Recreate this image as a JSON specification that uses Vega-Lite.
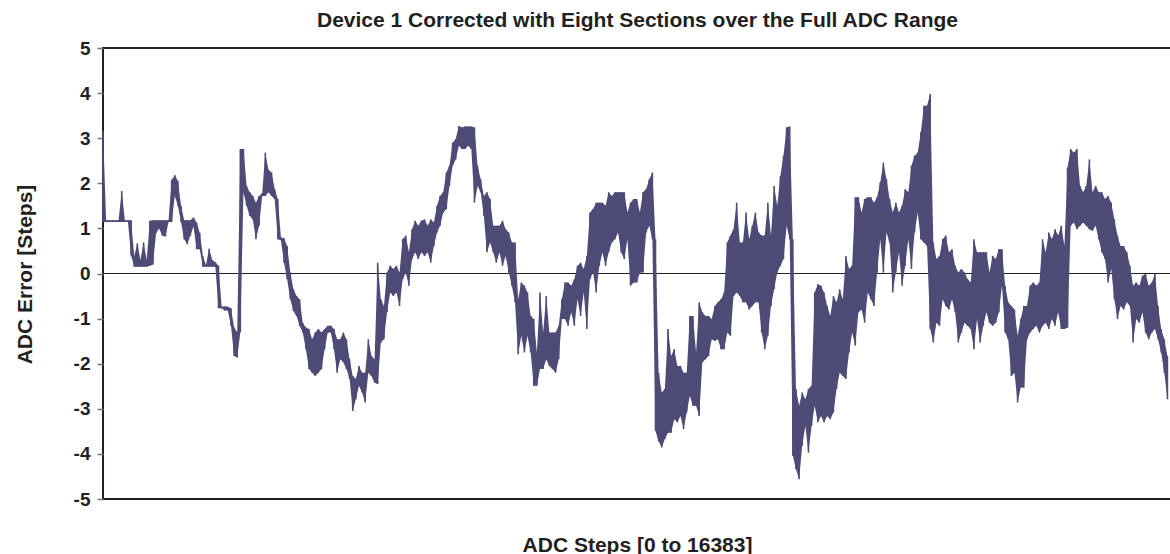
{
"$schema": "https://vega.github.io/schema/vega-lite/v6.json",
"width": 1073,
"height": 451,
"autosize": {"type": "none"},
"padding": {"left": 103, "top": 48, "right": 0, "bottom": 55},
"background": "white",
"title": {"text": "Device 1 Corrected with Eight Sections over the Full ADC Range", "font": "Liberation Sans", "fontSize": 21, "fontWeight": "bold", "color": "#231f20", "anchor": "middle", "baseline": "alphabetic", "offset": 20, "dx": -2, "dy": 29},
"config": {"view": {"stroke": "#231f20", "strokeWidth": 2}},
"data": {"values": [
{"x":0,"lo":1.14,"hi":3.16},{"x":48,"lo":1.14,"hi":1.18},{"x":96,"lo":1.14,"hi":1.18},{"x":144,"lo":1.14,"hi":1.18},{"x":192,"lo":1.14,"hi":1.18},{"x":240,"lo":1.14,"hi":1.18},{"x":288,"lo":1.14,"hi":1.83},{"x":336,"lo":1.14,"hi":1.18},{"x":384,"lo":1.14,"hi":1.18},{"x":432,"lo":0.4,"hi":1.18},
{"x":480,"lo":0.15,"hi":0.38},{"x":528,"lo":0.15,"hi":0.67},{"x":576,"lo":0.15,"hi":0.3},{"x":624,"lo":0.15,"hi":0.69},{"x":672,"lo":0.15,"hi":0.3},{"x":720,"lo":0.17,"hi":1.17},{"x":768,"lo":0.2,"hi":1.18},{"x":816,"lo":0.9,"hi":1.18},{"x":864,"lo":1.0,"hi":1.18},{"x":912,"lo":0.84,"hi":1.18},
{"x":960,"lo":0.82,"hi":1.18},{"x":1008,"lo":1.14,"hi":1.18},{"x":1056,"lo":1.14,"hi":2.08},{"x":1104,"lo":1.72,"hi":2.18},{"x":1152,"lo":1.5,"hi":2.05},{"x":1200,"lo":1.14,"hi":1.5},{"x":1248,"lo":0.76,"hi":1.18},{"x":1296,"lo":0.65,"hi":1.18},{"x":1344,"lo":0.84,"hi":1.18},{"x":1392,"lo":1.05,"hi":1.24},
{"x":1440,"lo":0.54,"hi":1.13},{"x":1488,"lo":0.54,"hi":0.9},{"x":1536,"lo":0.15,"hi":0.38},{"x":1584,"lo":0.15,"hi":0.19},{"x":1632,"lo":0.15,"hi":0.55},{"x":1680,"lo":0.15,"hi":0.3},{"x":1728,"lo":0.15,"hi":0.25},{"x":1776,"lo":-0.77,"hi":0.17},{"x":1824,"lo":-0.77,"hi":-0.73},{"x":1872,"lo":-0.82,"hi":-0.73},
{"x":1920,"lo":-0.82,"hi":-0.74},{"x":1968,"lo":-1.16,"hi":-0.77},{"x":2016,"lo":-1.83,"hi":-1.2},{"x":2064,"lo":-1.86,"hi":-1.3},{"x":2112,"lo":-1.3,"hi":2.76},{"x":2160,"lo":1.8,"hi":2.76},{"x":2208,"lo":1.5,"hi":1.94},{"x":2256,"lo":1.28,"hi":1.8},{"x":2304,"lo":1.2,"hi":1.72},{"x":2352,"lo":0.76,"hi":1.57},
{"x":2400,"lo":1.06,"hi":1.72},{"x":2448,"lo":1.72,"hi":1.78},{"x":2496,"lo":1.72,"hi":2.68},{"x":2544,"lo":1.8,"hi":2.3},{"x":2592,"lo":1.72,"hi":2.24},{"x":2640,"lo":1.65,"hi":1.87},{"x":2688,"lo":0.76,"hi":1.65},{"x":2736,"lo":0.74,"hi":0.8},{"x":2784,"lo":0.24,"hi":0.78},{"x":2832,"lo":-0.13,"hi":0.61},
{"x":2880,"lo":-0.57,"hi":0.02},{"x":2928,"lo":-0.83,"hi":-0.35},{"x":2976,"lo":-0.94,"hi":-0.5},{"x":3024,"lo":-1.16,"hi":-0.57},{"x":3072,"lo":-1.31,"hi":-1.1},{"x":3120,"lo":-1.68,"hi":-1.2},{"x":3168,"lo":-2.12,"hi":-1.23},{"x":3216,"lo":-2.2,"hi":-1.46},{"x":3264,"lo":-2.27,"hi":-1.31},{"x":3312,"lo":-2.2,"hi":-1.23},
{"x":3360,"lo":-2.12,"hi":-1.31},{"x":3408,"lo":-1.68,"hi":-1.23},{"x":3456,"lo":-1.31,"hi":-1.16},{"x":3504,"lo":-1.31,"hi":-1.16},{"x":3552,"lo":-1.68,"hi":-1.23},{"x":3600,"lo":-2.2,"hi":-1.46},{"x":3648,"lo":-1.9,"hi":-1.46},{"x":3696,"lo":-1.97,"hi":-1.31},{"x":3744,"lo":-2.12,"hi":-1.46},{"x":3792,"lo":-2.34,"hi":-1.9},
{"x":3840,"lo":-3.05,"hi":-2.27},{"x":3888,"lo":-2.79,"hi":-2.34},{"x":3936,"lo":-2.49,"hi":-2.05},{"x":3984,"lo":-2.64,"hi":-2.2},{"x":4032,"lo":-2.86,"hi":-2.2},{"x":4080,"lo":-2.2,"hi":-1.46},{"x":4128,"lo":-2.27,"hi":-1.83},{"x":4176,"lo":-2.42,"hi":-1.9},{"x":4224,"lo":-2.45,"hi":0.24},{"x":4272,"lo":-1.53,"hi":-0.57},
{"x":4320,"lo":-1.46,"hi":-0.72},{"x":4368,"lo":-0.86,"hi":0.02},{"x":4416,"lo":-0.42,"hi":0.17},{"x":4464,"lo":-0.5,"hi":0.1},{"x":4512,"lo":-0.42,"hi":0.17},{"x":4560,"lo":-0.72,"hi":0.02},{"x":4608,"lo":-0.13,"hi":0.76},{"x":4656,"lo":0.02,"hi":0.84},{"x":4704,"lo":-0.27,"hi":0.47},{"x":4752,"lo":0.32,"hi":0.98},
{"x":4800,"lo":0.47,"hi":1.17},{"x":4848,"lo":0.32,"hi":1.06},{"x":4896,"lo":0.47,"hi":1.17},{"x":4944,"lo":0.39,"hi":1.2},{"x":4992,"lo":0.47,"hi":1.06},{"x":5040,"lo":0.24,"hi":1.2},{"x":5088,"lo":0.61,"hi":1.13},{"x":5136,"lo":0.91,"hi":1.5},{"x":5184,"lo":1.06,"hi":1.72},{"x":5232,"lo":1.35,"hi":1.8},
{"x":5280,"lo":1.43,"hi":2.24},{"x":5328,"lo":1.94,"hi":2.39},{"x":5376,"lo":2.39,"hi":2.9},{"x":5424,"lo":2.53,"hi":2.98},{"x":5472,"lo":2.83,"hi":3.27},{"x":5520,"lo":2.76,"hi":3.24},{"x":5568,"lo":2.76,"hi":3.26},{"x":5616,"lo":2.83,"hi":3.26},{"x":5664,"lo":2.76,"hi":3.26},{"x":5712,"lo":1.57,"hi":3.24},
{"x":5760,"lo":1.94,"hi":2.39},{"x":5808,"lo":1.8,"hi":2.09},{"x":5856,"lo":1.28,"hi":1.72},{"x":5904,"lo":0.47,"hi":1.8},{"x":5952,"lo":0.69,"hi":1.65},{"x":6000,"lo":0.47,"hi":1.06},{"x":6048,"lo":0.24,"hi":1.06},{"x":6096,"lo":0.47,"hi":1.06},{"x":6144,"lo":0.17,"hi":1.17},{"x":6192,"lo":0.39,"hi":0.98},
{"x":6240,"lo":0.02,"hi":0.91},{"x":6288,"lo":-0.27,"hi":0.69},{"x":6336,"lo":-0.64,"hi":0.69},{"x":6384,"lo":-1.79,"hi":-0.57},{"x":6432,"lo":-1.38,"hi":-0.2},{"x":6480,"lo":-1.75,"hi":-0.27},{"x":6528,"lo":-1.38,"hi":-0.42},{"x":6576,"lo":-1.75,"hi":-0.94},{"x":6624,"lo":-2.49,"hi":-1.01},{"x":6672,"lo":-2.49,"hi":-1.75},
{"x":6720,"lo":-2.12,"hi":-0.42},{"x":6768,"lo":-2.12,"hi":-1.31},{"x":6816,"lo":-1.9,"hi":-0.5},{"x":6864,"lo":-2.05,"hi":-1.31},{"x":6912,"lo":-2.12,"hi":-1.31},{"x":6960,"lo":-2.2,"hi":-1.31},{"x":7008,"lo":-1.9,"hi":-1.16},{"x":7056,"lo":-1.01,"hi":-0.57},{"x":7104,"lo":-1.01,"hi":-0.2},{"x":7152,"lo":-1.16,"hi":-0.2},
{"x":7200,"lo":-0.86,"hi":-0.27},{"x":7248,"lo":-1.16,"hi":-0.13},{"x":7296,"lo":-0.57,"hi":0.17},{"x":7344,"lo":-0.94,"hi":0.24},{"x":7392,"lo":-0.42,"hi":0.1},{"x":7440,"lo":-1.23,"hi":0.39},{"x":7488,"lo":-0.13,"hi":1.35},{"x":7536,"lo":0.02,"hi":1.43},{"x":7584,"lo":-0.42,"hi":1.57},{"x":7632,"lo":0.17,"hi":1.57},
{"x":7680,"lo":0.47,"hi":1.57},{"x":7728,"lo":0.17,"hi":1.5},{"x":7776,"lo":0.47,"hi":1.8},{"x":7824,"lo":0.69,"hi":1.72},{"x":7872,"lo":0.76,"hi":1.8},{"x":7920,"lo":0.91,"hi":1.8},{"x":7968,"lo":0.47,"hi":1.8},{"x":8016,"lo":0.32,"hi":1.8},{"x":8064,"lo":0.76,"hi":1.35},{"x":8112,"lo":-0.27,"hi":1.57},
{"x":8160,"lo":-0.2,"hi":1.65},{"x":8208,"lo":-0.2,"hi":1.65},{"x":8256,"lo":0.02,"hi":1.35},{"x":8304,"lo":0.02,"hi":1.8},{"x":8352,"lo":0.91,"hi":1.87},{"x":8400,"lo":1.06,"hi":2.09},{"x":8448,"lo":0.76,"hi":2.24},{"x":8496,"lo":-3.49,"hi":0.76},{"x":8544,"lo":-3.72,"hi":-2.2},{"x":8592,"lo":-3.86,"hi":-2.64},
{"x":8640,"lo":-3.67,"hi":-2.56},{"x":8688,"lo":-3.53,"hi":-1.23},{"x":8736,"lo":-3.53,"hi":-1.83},{"x":8784,"lo":-3.23,"hi":-1.68},{"x":8832,"lo":-3.3,"hi":-2.05},{"x":8880,"lo":-3.16,"hi":-2.05},{"x":8928,"lo":-3.45,"hi":-2.2},{"x":8976,"lo":-3.08,"hi":-2.2},{"x":9024,"lo":-2.71,"hi":-0.94},{"x":9072,"lo":-2.93,"hi":-0.94},
{"x":9120,"lo":-2.93,"hi":-1.75},{"x":9168,"lo":-3.16,"hi":-0.64},{"x":9216,"lo":-1.97,"hi":-0.86},{"x":9264,"lo":-1.9,"hi":-0.94},{"x":9312,"lo":-1.83,"hi":-0.94},{"x":9360,"lo":-1.46,"hi":-1.01},{"x":9408,"lo":-1.49,"hi":-0.72},{"x":9456,"lo":-1.46,"hi":-0.64},{"x":9504,"lo":-1.68,"hi":-0.57},{"x":9552,"lo":-1.68,"hi":-0.42},
{"x":9600,"lo":-1.31,"hi":0.69},{"x":9648,"lo":-1.38,"hi":0.84},{"x":9696,"lo":-0.5,"hi":0.98},{"x":9744,"lo":-0.42,"hi":1.57},{"x":9792,"lo":-0.5,"hi":0.69},{"x":9840,"lo":-0.64,"hi":0.69},{"x":9888,"lo":-0.64,"hi":1.35},{"x":9936,"lo":-0.8,"hi":0.76},{"x":9984,"lo":-0.72,"hi":1.06},{"x":10032,"lo":-0.64,"hi":1.35},
{"x":10080,"lo":-0.64,"hi":0.91},{"x":10128,"lo":-1.31,"hi":0.84},{"x":10176,"lo":-1.68,"hi":0.84},{"x":10224,"lo":-1.38,"hi":1.57},{"x":10272,"lo":-0.72,"hi":0.84},{"x":10320,"lo":-0.35,"hi":1.94},{"x":10368,"lo":0.02,"hi":1.5},{"x":10416,"lo":0.17,"hi":2.16},{"x":10464,"lo":0.32,"hi":2.61},{"x":10512,"lo":1.06,"hi":3.24},
{"x":10560,"lo":0.76,"hi":3.26},{"x":10608,"lo":-4.04,"hi":0.76},{"x":10656,"lo":-4.34,"hi":-2.56},{"x":10704,"lo":-4.56,"hi":-2.93},{"x":10752,"lo":-3.82,"hi":-2.64},{"x":10800,"lo":-3.38,"hi":-2.79},{"x":10848,"lo":-3.97,"hi":-2.56},{"x":10896,"lo":-3.38,"hi":-2.49},{"x":10944,"lo":-2.93,"hi":-0.42},{"x":10992,"lo":-3.3,"hi":-0.24},
{"x":11040,"lo":-3.16,"hi":-0.27},{"x":11088,"lo":-3.3,"hi":-0.42},{"x":11136,"lo":-3.16,"hi":-0.72},{"x":11184,"lo":-3.23,"hi":-0.94},{"x":11232,"lo":-3.08,"hi":-0.5},{"x":11280,"lo":-2.56,"hi":-0.64},{"x":11328,"lo":-2.2,"hi":-0.35},{"x":11376,"lo":-2.27,"hi":-0.57},{"x":11424,"lo":-2.34,"hi":0.39},{"x":11472,"lo":-1.75,"hi":0.1},
{"x":11520,"lo":-1.31,"hi":0.17},{"x":11568,"lo":-1.6,"hi":1.69},{"x":11616,"lo":-0.86,"hi":1.69},{"x":11664,"lo":-0.8,"hi":1.35},{"x":11712,"lo":-1.09,"hi":1.65},{"x":11760,"lo":-0.42,"hi":1.69},{"x":11808,"lo":-0.57,"hi":1.69},{"x":11856,"lo":-0.72,"hi":1.57},{"x":11904,"lo":0.02,"hi":1.69},{"x":11952,"lo":0.76,"hi":2.02},
{"x":12000,"lo":0.02,"hi":2.46},{"x":12048,"lo":0.91,"hi":2.09},{"x":12096,"lo":0.69,"hi":1.65},{"x":12144,"lo":-0.42,"hi":1.35},{"x":12192,"lo":0.02,"hi":1.57},{"x":12240,"lo":0.47,"hi":1.35},{"x":12288,"lo":-0.27,"hi":1.5},{"x":12336,"lo":0.17,"hi":1.87},{"x":12384,"lo":0.76,"hi":1.8},{"x":12432,"lo":0.1,"hi":2.39},
{"x":12480,"lo":0.91,"hi":2.61},{"x":12528,"lo":1.35,"hi":2.68},{"x":12576,"lo":0.76,"hi":3.13},{"x":12624,"lo":0.69,"hi":3.72},{"x":12672,"lo":0.61,"hi":3.72},{"x":12720,"lo":-1.23,"hi":3.98},{"x":12768,"lo":-1.53,"hi":0.69},{"x":12816,"lo":-1.09,"hi":0.32},{"x":12864,"lo":-1.16,"hi":0.39},{"x":12912,"lo":-0.57,"hi":0.76},
{"x":12960,"lo":-0.72,"hi":0.84},{"x":13008,"lo":-0.8,"hi":0.47},{"x":13056,"lo":-0.57,"hi":0.54},{"x":13104,"lo":-0.86,"hi":0.17},{"x":13152,"lo":-1.53,"hi":0.02},{"x":13200,"lo":-1.31,"hi":0.1},{"x":13248,"lo":-1.09,"hi":0.02},{"x":13296,"lo":-1.16,"hi":-0.13},{"x":13344,"lo":-1.23,"hi":-0.2},{"x":13392,"lo":-1.68,"hi":0.76},
{"x":13440,"lo":-1.01,"hi":0.47},{"x":13488,"lo":-1.53,"hi":0.47},{"x":13536,"lo":-1.16,"hi":0.47},{"x":13584,"lo":-0.86,"hi":0.47},{"x":13632,"lo":-1.09,"hi":0.02},{"x":13680,"lo":-1.16,"hi":0.39},{"x":13728,"lo":-1.09,"hi":0.32},{"x":13776,"lo":-0.86,"hi":0.54},{"x":13824,"lo":-0.27,"hi":0.54},{"x":13872,"lo":-1.31,"hi":-0.27},
{"x":13920,"lo":-1.46,"hi":-0.64},{"x":13968,"lo":-2.27,"hi":-0.72},{"x":14016,"lo":-2.2,"hi":-0.8},{"x":14064,"lo":-2.86,"hi":-1.38},{"x":14112,"lo":-2.53,"hi":-1.01},{"x":14160,"lo":-2.53,"hi":-0.72},{"x":14208,"lo":-1.46,"hi":-0.72},{"x":14256,"lo":-1.31,"hi":-0.27},{"x":14304,"lo":-1.23,"hi":-0.2},{"x":14352,"lo":-1.16,"hi":-0.27},
{"x":14400,"lo":-1.31,"hi":-0.2},{"x":14448,"lo":-1.16,"hi":0.76},{"x":14496,"lo":-1.09,"hi":0.47},{"x":14544,"lo":-1.23,"hi":0.91},{"x":14592,"lo":-1.01,"hi":0.76},{"x":14640,"lo":-1.16,"hi":0.98},{"x":14688,"lo":-0.86,"hi":0.84},{"x":14736,"lo":-1.23,"hi":1.06},{"x":14784,"lo":-1.23,"hi":0.61},{"x":14832,"lo":-1.2,"hi":2.35},
{"x":14880,"lo":1.06,"hi":2.76},{"x":14928,"lo":1.13,"hi":2.68},{"x":14976,"lo":0.98,"hi":2.76},{"x":15024,"lo":1.06,"hi":1.94},{"x":15072,"lo":1.13,"hi":1.8},{"x":15120,"lo":1.06,"hi":1.94},{"x":15168,"lo":0.98,"hi":2.53},{"x":15216,"lo":0.95,"hi":1.8},{"x":15264,"lo":1.06,"hi":1.94},{"x":15312,"lo":0.76,"hi":1.8},
{"x":15360,"lo":0.47,"hi":1.8},{"x":15408,"lo":0.32,"hi":1.65},{"x":15456,"lo":-0.2,"hi":1.72},{"x":15504,"lo":0.1,"hi":1.57},{"x":15552,"lo":-0.57,"hi":1.2},{"x":15600,"lo":-1.01,"hi":0.84},{"x":15648,"lo":-0.72,"hi":0.61},{"x":15696,"lo":-0.8,"hi":0.61},{"x":15744,"lo":-0.64,"hi":0.47},{"x":15792,"lo":-0.72,"hi":0.17},
{"x":15840,"lo":-1.53,"hi":-0.27},{"x":15888,"lo":-1.01,"hi":-0.2},{"x":15936,"lo":-1.09,"hi":-0.27},{"x":15984,"lo":-0.86,"hi":-0.05},{"x":16032,"lo":-1.31,"hi":-0.01},{"x":16080,"lo":-1.46,"hi":-0.27},{"x":16128,"lo":-1.31,"hi":-0.2},{"x":16176,"lo":-1.23,"hi":-0.01},{"x":16224,"lo":-1.46,"hi":-0.72},{"x":16272,"lo":-1.75,"hi":-1.23},
{"x":16320,"lo":-2.2,"hi":-1.46},{"x":16368,"lo":-2.79,"hi":-1.83}
]},
"encoding": {
  "x": {"field": "x", "type": "quantitative", "scale": {"domain": [0, 16500], "nice": false, "zero": false},
        "axis": {"labels": false, "ticks": false, "domain": false, "grid": false, "title": "ADC Steps [0 to 16383]", "titleFont": "Liberation Sans", "titleFontSize": 21, "titleFontWeight": "bold", "titleColor": "#231f20", "titleX": 534, "titleY": 52, "titleAlign": "center", "titleBaseline": "alphabetic"}},
  "y": {"field": "lo", "type": "quantitative", "scale": {"domain": [-5, 5], "nice": false},
        "axis": {"values": [-5,-4,-3,-2,-1,0,1,2,3,4,5], "labelExpr": "'' + datum.value", "grid": false, "domain": false, "tickSize": 6, "tickColor": "#777777", "tickWidth": 1.5, "labelFont": "Liberation Sans", "labelFontSize": 19, "labelFontWeight": "bold", "labelColor": "#231f20", "labelPadding": 7,
                 "title": "ADC Error [Steps]", "titleFont": "Liberation Sans", "titleFontSize": 21, "titleFontWeight": "bold", "titleColor": "#231f20", "titleAngle": -90, "titleX": -72, "titleY": 226, "titleAlign": "center", "titleBaseline": "alphabetic"}},
  "y2": {"field": "hi"}
},
"layer": [
{"mark": {"type": "rule", "color": "#231f20", "strokeWidth": 1}, "encoding": {"y": {"datum": 0, "type": "quantitative"}, "x": {"value": 0}, "x2": {"value": 1073}, "y2": null}},
{"mark": {"type": "area", "color": "#4e4b77", "opacity": 1, "interpolate": "linear"}},
{"mark": {"type": "rule", "color": "#4e4b77", "strokeWidth": 1.6}}
]
}
